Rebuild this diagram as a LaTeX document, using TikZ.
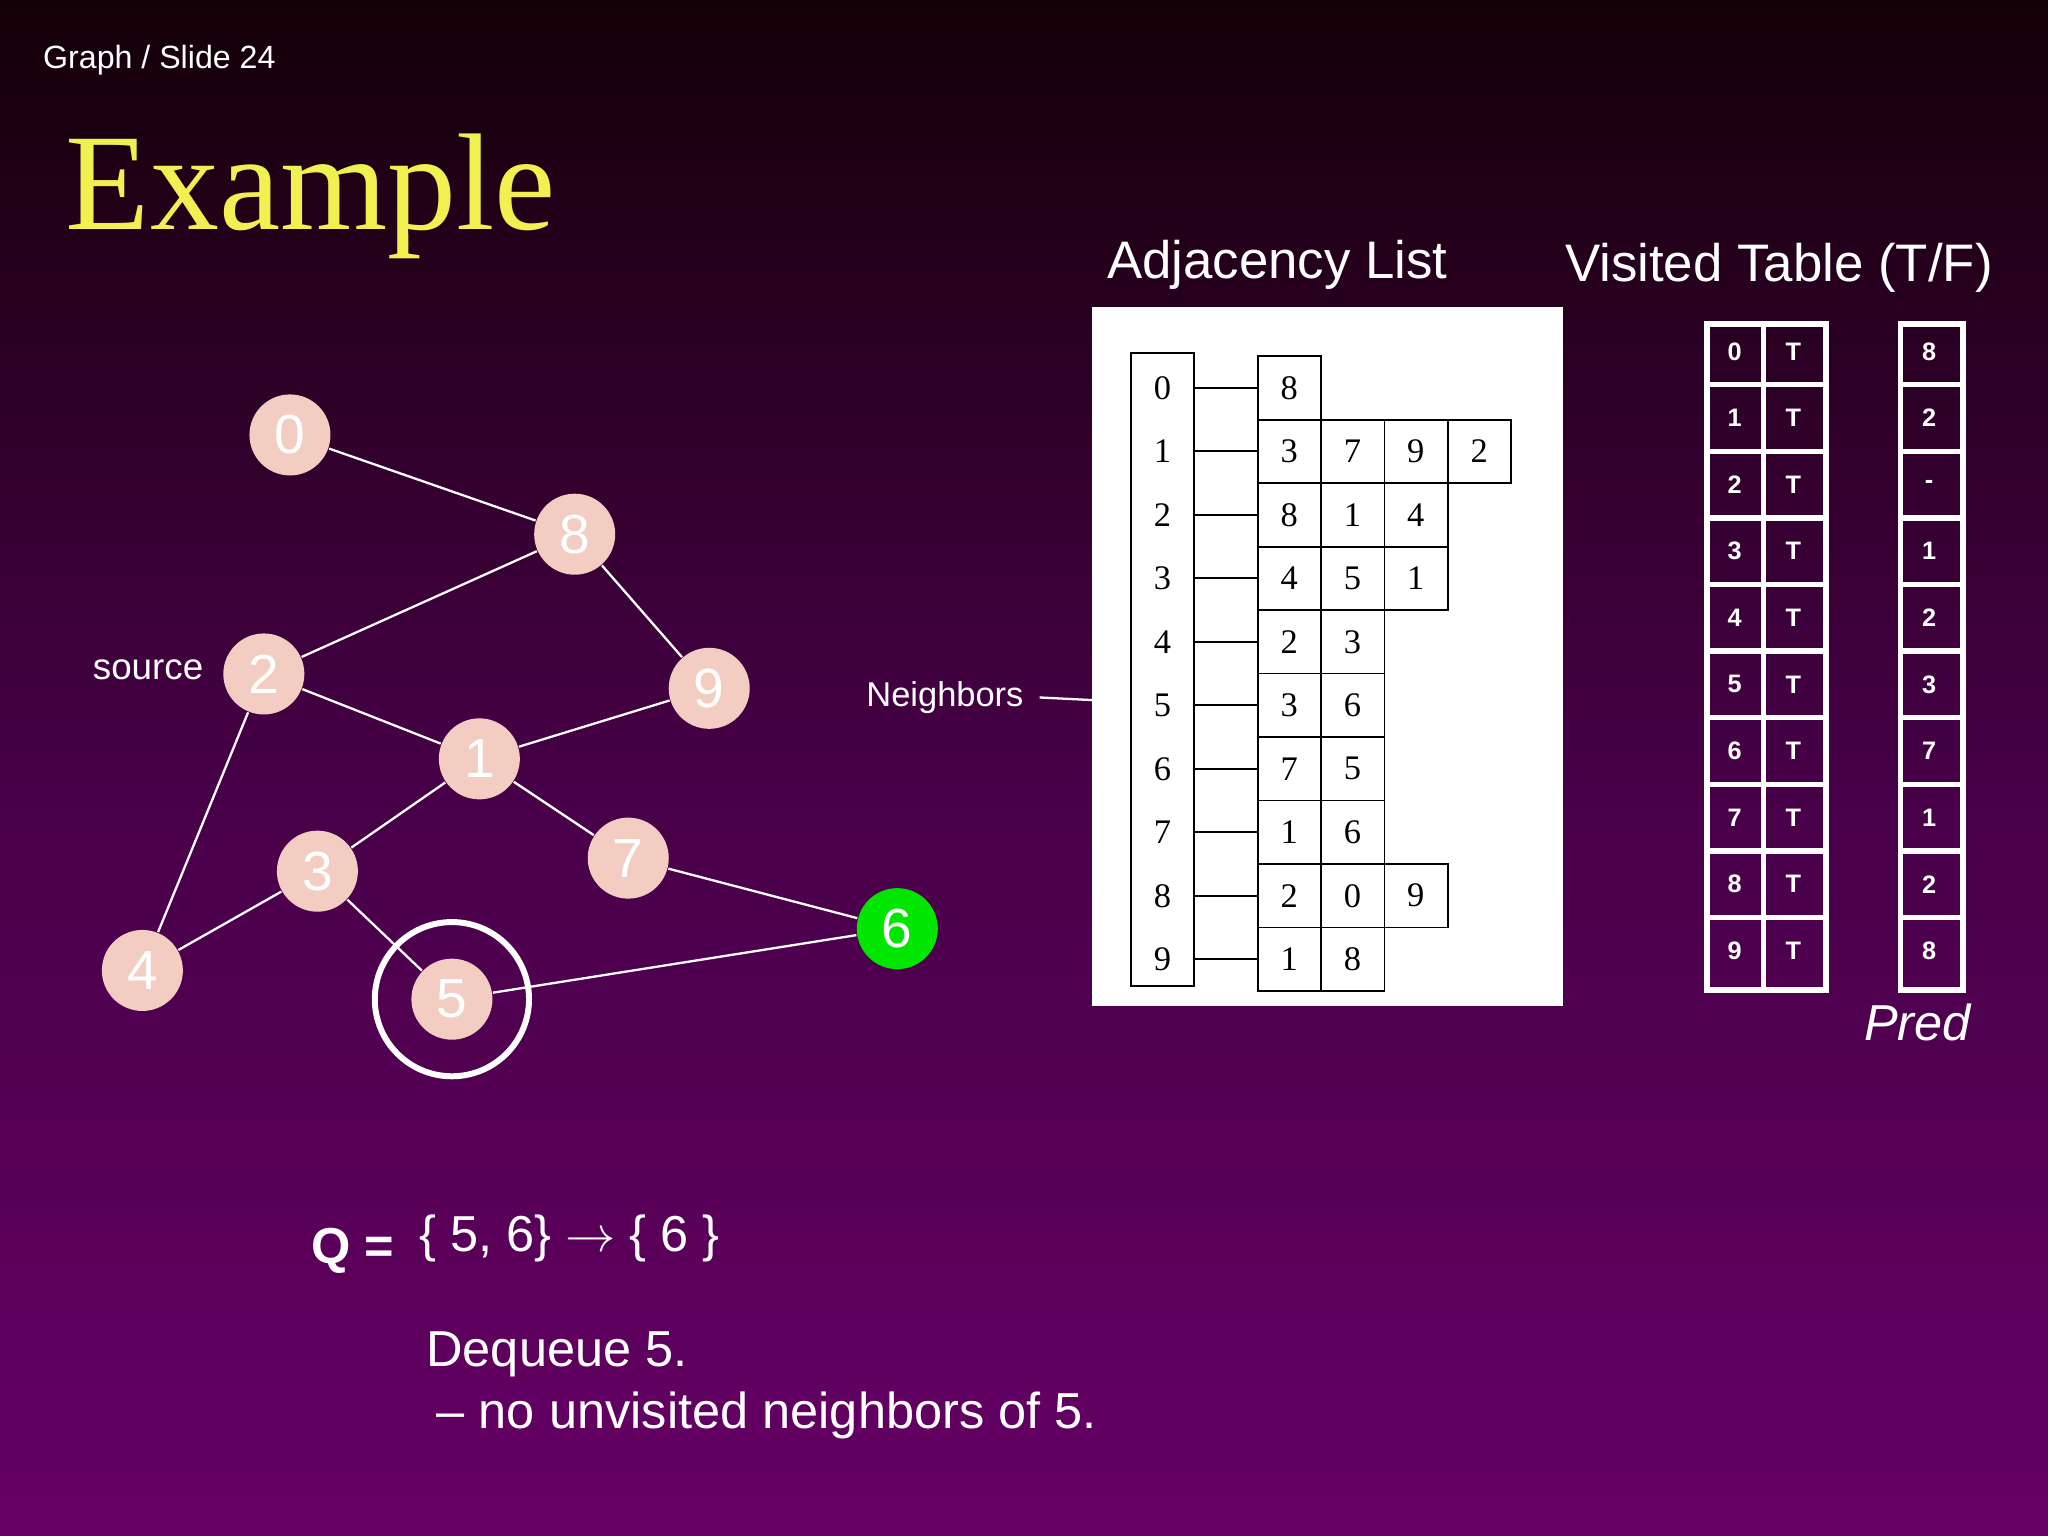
\documentclass[tikz,border=0pt]{standalone}
\usepackage{fontspec}
\setmainfont{Liberation Sans}
\newfontfamily\tms{Liberation Serif}
\begin{document}
\begin{tikzpicture}[x=0.01cm,y=-0.01cm,
 vx/.style={circle,fill=pink!70!brown!60!white,minimum size=0.62cm,inner sep=0pt,text=white,font=\fontsize{12}{12}\selectfont},
 ed/.style={white,line width=0.5pt},
 adj/.style={draw=black,line width=0.4pt},
 cell/.style={font=\tms\fontsize{7.5}{8}\selectfont,text=black},
 vt/.style={font=\bfseries\fontsize{5.5}{6}\selectfont,text=white},
 lab/.style={text=white,font=\fontsize{11}{12}\selectfont}]
\useasboundingbox (0,0) rectangle (1568,1176);
\shade[top color=black!90!purple, bottom color={rgb,255:red,102;green,0;blue,102}, middle color={rgb,255:red,70;green,0;blue,70}] (0,0) rectangle (1568,1176);
\node[text=white,font=\fontsize{7}{8}\selectfont] (hdr) at (122,46) {Graph / Slide 24};
\node[text={rgb,255:red,240;green,240;blue,80},font=\tms\fontsize{30}{32}\selectfont] (ex) at (238,150) {Example};
% graph
\foreach \n/\x/\y in {0/222/333,8/440/409,2/202/516,9/543/527,1/367/581,7/481/657,3/243/667,4/109/743,5/346/765}
  \node[vx] (n\n) at (\x,\y) {\n};
\node[vx,fill={rgb,255:red,0;green,230;blue,0}] (n6) at (687,711) {6};
\node[circle,draw=white,line width=1.3pt,minimum size=1.18cm] (ring) at (346,765) {};
\foreach \a/\b in {0/8,8/2,8/9,2/1,2/4,1/9,1/3,1/7,7/6,3/4,3/5,5/6}
  \draw[ed] (n\a) -- (n\b);
\node[text=white,font=\fontsize{8}{9}\selectfont,anchor=east] (src) at (168,513) {source};
% adjacency list
\node[lab,font=\fontsize{11.5}{12}\selectfont] (at) at (978,203) {Adjacency List};
\fill[white] (836,235) rectangle (1197,770);
\draw[adj] (866,270) rectangle (914,755);
\coordinate (nb) at (836,536);
\node[text=white,font=\fontsize{7.5}{8}\selectfont,anchor=east] (nbl) at (796,534) {Neighbors};
\draw[white,line width=0.5pt] (nbl.east) -- (nb);
\foreach \i/\lst [count=\r from 0] in {0/{8},1/{3,7,9,2},2/{8,1,4},3/{4,5,1},4/{2,3},5/{3,6},6/{7,5},7/{1,6},8/{2,0,9},9/{1,8}}{
  \pgfmathsetmacro{\yy}{297+48.6*\r}
  \node[cell] (i\r) at (890,\yy) {\i};
  \draw[adj] (914,\yy) -- (963,\yy);
  \foreach \v [count=\c from 0] in \lst {
    \draw[adj] ({963+48.5*\c},\yy-24.3) rectangle ({963+48.5*(\c+1)},\yy+24.3);
    \node[cell] at ({987+48.5*\c},\yy) {\v};
  }
}
% visited table
\node[lab,font=\fontsize{11.5}{12}\selectfont] (vt) at (1362,205) {Visited Table (T/F)};
\draw[white,line width=1.2pt] (1307,248) rectangle (1398,758);
\draw[white,line width=1.2pt] (1455,248) rectangle (1503,758);
\draw[white,line width=1.2pt] (1350,248) -- (1350,758);
\foreach \p [count=\r from 0] in {8,2,-,1,2,3,7,1,2,8}{
  \pgfmathsetmacro{\yy}{269+51*\r}
  \ifnum\r>0 \draw[white,line width=1.2pt] (1307,\yy-25.5) -- (1398,\yy-25.5);
  \draw[white,line width=1.2pt] (1455,\yy-25.5) -- (1503,\yy-25.5);\fi
  \node[vt] at (1328,\yy) {\r};
  \node[vt] at (1373,\yy) {T};
  \node[vt] at (1477,\yy) {\p};
}
\node[text=white,font=\itshape\fontsize{11}{12}\selectfont] (pred) at (1468,783) {Pred};
% queue text
\node[text=white,font=\bfseries\fontsize{11}{12}\selectfont] (q) at (270,958) {Q =};
\node[lab] (qv) at (436,948) {\{ 5, 6\} $\rightarrow$ \{ 6 \}};
\node[lab,anchor=west] (d1) at (314,1037) {Dequeue 5.};
\node[lab,anchor=west] (d2) at (322,1084) {-- no unvisited neighbors of 5.};
\end{tikzpicture}
\end{document}
